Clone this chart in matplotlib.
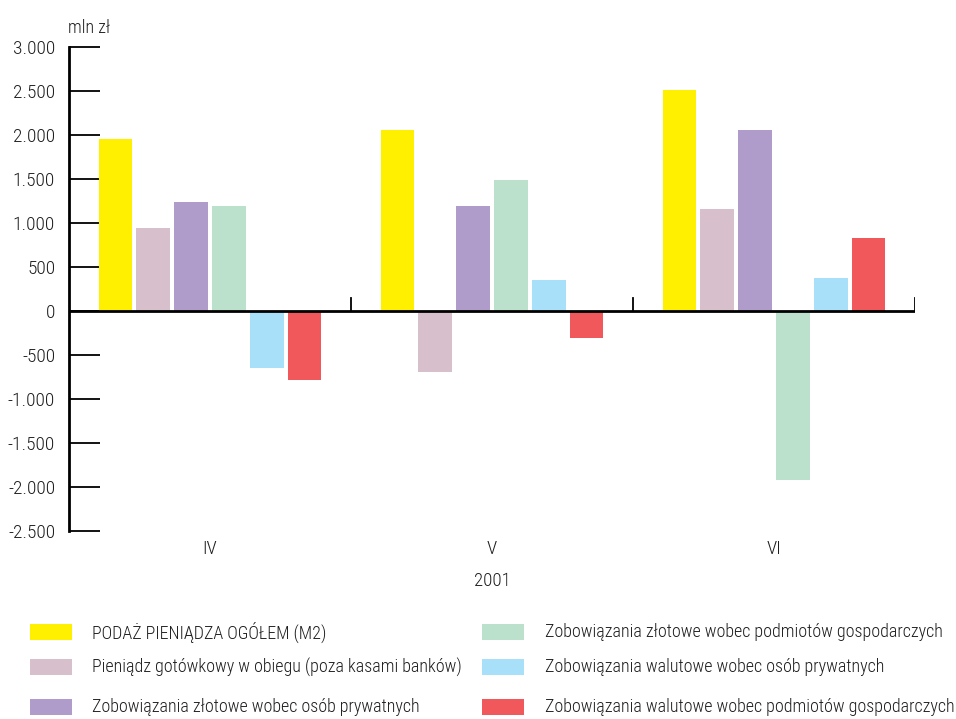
import matplotlib
matplotlib.use("Agg")
import matplotlib.pyplot as plt
from matplotlib.patches import Rectangle
from matplotlib.ticker import FuncFormatter
from matplotlib import font_manager as fm
import numpy as np

categories = ['IV', 'V', 'VI']
year_label = '2001'
unit_label = 'mln zł'
series_names = [
    'PODAŻ PIENIĄDZA OGÓŁEM (M2)',
    'Pieniądz gotówkowy w obiegu (poza kasami banków)',
    'Zobowiązania złotowe wobec osób prywatnych',
    'Zobowiązania złotowe wobec podmiotów gospodarczych',
    'Zobowiązania walutowe wobec osób prywatnych',
    'Zobowiązania walutowe wobec podmiotów gospodarczych',
]
m2 = [1955, 2057, 2511]
gotowkowy = [943, -693, 1159]
zl_prywatne = [1239, 1193, 2057]
zl_podmioty = [1193, 1489, -1920]
wal_prywatne = [-648, 352, 375]
wal_podmioty = [-784, -307, 830]
series_values = [m2, gotowkowy, zl_prywatne, zl_podmioty, wal_prywatne, wal_podmioty]
colors = ['#FFF000', '#D7BFCB', '#B09CCA', '#BBE0CC', '#A9E0F9', '#F0585B']
yticks = [-2500, -2000, -1500, -1000, -500, 0, 500, 1000, 1500, 2000, 2500, 3000]

# pick a light/regular condensed sans if one is installed
def find_condensed():
    prefs = ['Liberation Sans Narrow', 'Roboto Condensed', 'Open Sans Condensed',
             'Noto Sans', 'DejaVu Sans', 'Open Sans', 'Roboto', 'Inter']
    cands = []
    for f in fm.fontManager.ttflist:
        nm = f.name
        low = (nm + ' ' + str(f.fname)).lower()
        cond = (f.stretch in ('condensed', 'semi-condensed', 'extra-condensed')
                or 'narrow' in low or 'condensed' in low)
        if not cond or f.style != 'normal' or 'italic' in low:
            continue
        w = f.weight
        if isinstance(w, str):
            w = {'light': 300, 'normal': 400, 'regular': 400, 'book': 400}.get(w, 700)
        if w not in (300, 400):
            continue
        if 'mono' in low or 'serif' in low.replace('sans-serif', ''):
            continue
        rank = prefs.index(nm) if nm in prefs else len(prefs)
        cands.append((rank, 0 if w == 300 else 1, f.fname))
    if cands:
        cands.sort()
        return cands[0][2]
    return None

cfile = find_condensed()
if cfile:
    def FP(size):
        return fm.FontProperties(fname=cfile, size=size)
else:
    def FP(size):
        return fm.FontProperties(family=['Liberation Sans', 'DejaVu Sans'], size=size)

TXT = '#1e1e1e'

fig = plt.figure(figsize=(9.56, 7.19), dpi=100)
renderer = fig.canvas.get_renderer()

# calibrate font size so the longest legend label spans ~409 px like the reference
probe = fig.text(0, 0, series_names[5], fontproperties=FP(12))
wpx = probe.get_window_extent(renderer).width
probe.remove()
FS = 12 * 409.0 / wpx

ax = fig.add_axes([69/956, 1-531/719, (915-69)/956, (531-47)/719])

x = np.arange(len(categories))
pitch = 0.134
width = 0.12
n = len(series_values)
for i, (vals, c) in enumerate(zip(series_values, colors)):
    offs = (i - (n-1)/2) * pitch
    ax.bar(x + offs, vals, width=width, color=c, zorder=2)

ax.set_xlim(-0.5, len(categories) - 0.5)
ax.set_ylim(-2500, 3000)

for s in ['top', 'right', 'bottom']:
    ax.spines[s].set_visible(False)
ax.spines['left'].set_linewidth(2)
ax.spines['left'].set_color('black')
ax.axhline(0, color='black', lw=2, zorder=3)

ax.set_yticks(yticks)
ax.yaxis.set_major_formatter(FuncFormatter(lambda v, p: f"{int(v):,}".replace(',', '.')))
ax.tick_params(axis='y', direction='in', length=22, width=1.3, color='black',
               labelcolor=TXT, pad=10)
for lab in ax.get_yticklabels():
    lab.set_fontproperties(FP(FS * 1.08))
ax.set_xticks([])

# group separators on the zero line
for b in np.arange(0.5, len(categories), 1.0):
    ax.plot([b, b], [0, 150], color='black', lw=1.3, zorder=3)

for xi, cat in zip(x, categories):
    ax.text(xi, -2710, cat, ha='center', va='center', fontproperties=FP(FS * 1.05), color=TXT)
ax.text(np.mean(x), -3070, year_label, ha='center', va='center',
        fontproperties=FP(FS * 1.05), color=TXT)

fig.text(68/956, 1-28/719, unit_label, ha='left', va='center', fontproperties=FP(FS), color=TXT)

# legend
rows_y = [632, 667, 707]
cols = [(30, 92), (482, 545)]
for k, (name, c) in enumerate(zip(series_names, colors)):
    col, row = divmod(k, 3)
    px, tx = cols[col]
    yc = rows_y[row]
    fig.add_artist(Rectangle((px/956, 1-(yc+8)/719), 42/956, 16/719,
                             transform=fig.transFigure, color=c, lw=0))
    fig.text(tx/956, 1-yc/719, name, ha='left', va='center', fontproperties=FP(FS), color=TXT)

fig.savefig('out.png', dpi=100)
